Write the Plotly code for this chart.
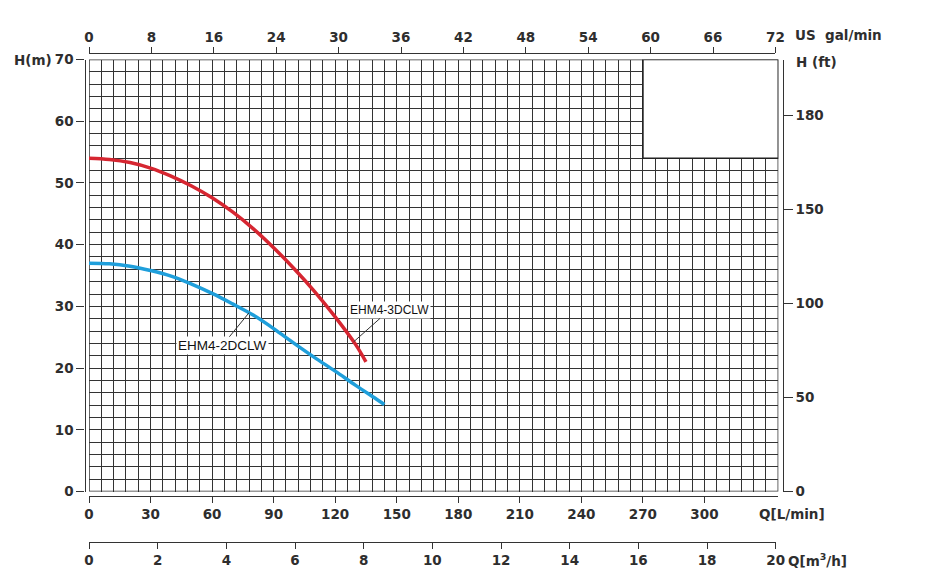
import numpy as np
import plotly.graph_objects as go

# ---------------- data ----------------
q_3d = [0, 10, 20, 30, 40, 50, 60, 70, 80, 90, 100, 110, 120, 130, 135]
h_3d = [54.0, 53.8, 53.3, 52.4, 51.1, 49.5, 47.6, 45.3, 42.6, 39.5, 36.1, 32.4, 28.3, 23.8, 21.0]

q_2d = [0, 10, 20, 30, 40, 50, 60, 70, 80, 90, 100, 110, 120, 130, 140, 144]
h_2d = [37.0, 36.9, 36.5, 35.8, 34.9, 33.6, 32.1, 30.4, 28.6, 26.4, 24.0, 21.7, 19.5, 17.2, 15.0, 14.1]

name_3d = "EHM4-3DCLW"
name_2d = "EHM4-2DCLW"

lmin_ticks = [0, 30, 60, 90, 120, 150, 180, 210, 240, 270, 300]
m3h_ticks = [0, 2, 4, 6, 8, 10, 12, 14, 16, 18, 20]
gal_labels = ["0", "8", "16", "24", "30", "36", "42", "48", "54", "60", "66", "72"]
hm_ticks = [0, 10, 20, 30, 40, 50, 60, 70]
ft_labels = ["0", "50", "100", "150", "180"]
ft_pos_m = [0, 15.24, 30.48, 45.72, 60.96]

Q_MAX = 336
H_MAX = 70

# ---------------- layout helpers ----------------
W, H = 925, 587
def X(px):
    return px / W
def Y(py):
    return 1 - py / H

TXT = "#2e2e2e"
GRID = "#333333"
FONT = "DejaVu Sans"
tickfont = dict(family=FONT, size=13.5, color=TXT, weight="bold")

fig = go.Figure()
fig.add_trace(go.Scatter(x=q_3d, y=h_3d, mode="lines", line=dict(color="#d62631", width=3.5, shape="spline"),
                         name=name_3d, hoverinfo="skip"))
fig.add_trace(go.Scatter(x=q_2d, y=h_2d, mode="lines", line=dict(color="#1f9fdb", width=3.5, shape="spline"),
                         name=name_2d, hoverinfo="skip"))

common_grid = dict(showgrid=True, gridcolor=GRID, gridwidth=1.3, zeroline=False, showline=False,
                   ticks="", showticklabels=False, fixedrange=True, automargin=False)
axline = dict(showline=True, linecolor=GRID, linewidth=1.3, ticks="outside", tickcolor=GRID,
              tickwidth=1.3, showgrid=False, zeroline=False, tickfont=tickfont, fixedrange=True,
              automargin=False)

fig.update_layout(
    template="none",
    width=W, height=H,
    margin=dict(l=0, r=0, t=0, b=0, pad=0, autoexpand=False),
    paper_bgcolor="white", plot_bgcolor="rgba(0,0,0,0)",
    showlegend=False,
    xaxis=dict(domain=[X(89), X(778.3)], range=[0, Q_MAX], dtick=6, tick0=0, anchor="y", **common_grid),
    yaxis=dict(domain=[Y(491.5), Y(59.5)], range=[0, H_MAX], dtick=2, tick0=0, anchor="x", **common_grid),
    # bottom L/min axis
    xaxis2=dict(overlaying="x", anchor="free", position=Y(496), side="bottom", range=[0, Q_MAX],
                tickvals=lmin_ticks, ticklen=6, **axline),
    # bottom m3/h axis
    xaxis3=dict(domain=[X(89), X(775.7)], anchor="y4", side="bottom", range=[0, 20],
                tickvals=m3h_ticks, ticklen=6, **axline),
    yaxis4=dict(domain=[Y(541.7), Y(541.7) + 0.004], anchor="x3", visible=False, range=[0, 1],
                fixedrange=True, automargin=False),
    # top US gal/min axis
    xaxis4=dict(domain=[X(89), X(775.4)], anchor="y5", side="top", range=[0, len(gal_labels) - 1],
                tickvals=list(range(len(gal_labels))), ticktext=gal_labels, ticklen=6, **axline),
    yaxis5=dict(domain=[Y(54.3) - 0.004, Y(54.3)], anchor="x4", visible=False, range=[0, 1],
                fixedrange=True, automargin=False),
    # left H(m)
    yaxis2=dict(overlaying="y", anchor="free", position=X(84.5), side="left", range=[0, H_MAX],
                tickvals=hm_ticks, ticklen=8, **axline),
    # right H(ft)
    yaxis3=dict(overlaying="y", anchor="free", position=X(782.7), side="right", range=[0, H_MAX],
                tickvals=ft_pos_m, ticktext=ft_labels, ticklen=9, **axline),
)

# dummy traces so the extra axes get drawn
fig.add_trace(go.Scatter(x=[], y=[], xaxis="x3", yaxis="y4", showlegend=False))
fig.add_trace(go.Scatter(x=[], y=[], xaxis="x4", yaxis="y5", showlegend=False))
fig.add_trace(go.Scatter(x=[], y=[], xaxis="x2", yaxis="y2", showlegend=False))
fig.add_trace(go.Scatter(x=[], y=[], xaxis="x", yaxis="y3", showlegend=False))

# frame and blank box
fig.add_shape(type="rect", xref="x", yref="y", x0=0, x1=Q_MAX, y0=0, y1=H_MAX,
              line=dict(color=GRID, width=1.5), fillcolor="rgba(0,0,0,0)", layer="between")
fig.add_shape(type="rect", xref="x", yref="y", x0=270, x1=Q_MAX, y0=54, y1=H_MAX,
              line=dict(color="#222", width=1.6), fillcolor="white", layer="between")

# axis titles
lab = dict(family=FONT, size=13.5, color=TXT, weight="bold")
fig.add_annotation(text="H(m)", xref="paper", yref="paper", x=X(54), y=Y(60), xanchor="right",
                   yanchor="middle", showarrow=False, font=lab)
fig.add_annotation(text="H (ft)", xref="paper", yref="paper", x=X(794), y=Y(62), xanchor="left",
                   yanchor="middle", showarrow=False, font=lab)
fig.add_annotation(text="US  gal/min", xref="paper", yref="paper", x=X(793), y=Y(35), xanchor="left",
                   yanchor="middle", showarrow=False, font=lab)
fig.add_annotation(text="Q[L/min]", xref="paper", yref="paper", x=X(757), y=Y(514), xanchor="left",
                   yanchor="middle", showarrow=False, font=lab)
fig.add_annotation(text="Q[m<sup>3</sup>/h]", xref="paper", yref="paper", x=X(786), y=Y(560), xanchor="left",
                   yanchor="middle", showarrow=False, font=lab)

# curve labels with leader lines
p3 = 129
fig.add_annotation(text=name_3d, x=p3, y=float(np.interp(p3, q_3d, h_3d)), xref="x", yref="y",
                   ax=36, ay=-32, showarrow=True, arrowhead=0, arrowwidth=1, arrowcolor="#333",
                   bgcolor="white", borderpad=1, font=dict(family="Liberation Sans", size=12, color="#111"))
p2 = 78
fig.add_annotation(text=name_2d, x=p2, y=float(np.interp(p2, q_2d, h_2d)), xref="x", yref="y",
                   ax=-27, ay=33, showarrow=True, arrowhead=0, arrowwidth=1, arrowcolor="#333",
                   bgcolor="white", borderpad=1, font=dict(family="Liberation Sans", size=13.5, color="#111"))

fig.write_html("out.html")
